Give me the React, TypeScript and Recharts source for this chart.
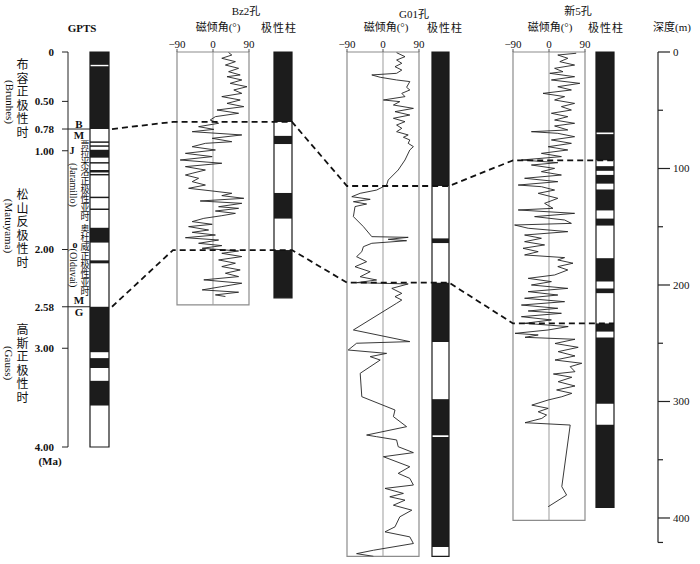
import React from 'react'
import { ComposedChart, LineChart, Line, XAxis, YAxis, ReferenceArea, ReferenceLine } from 'recharts'

// shared vertical scale: every panel starts at y=52
const TOP = 52
const PX_PER_M = 1.165
const PX_PER_MA = 98.75
const SERIF = "'Liberation Serif', 'Noto Sans CJK SC', serif"
const CJK = "'Noto Sans CJK SC', 'Liberation Serif', serif"

// ---- data ----
const inclTicks = [-90, 0, 90]
const gptsTicks = [0, 0.5, 0.78, 1, 2, 2.58, 3, 4]
const depthTicks = [0, 50, 100, 150, 200, 250, 300, 350, 400]

// normal polarity intervals (black), Ma
const gptsNormal = [
  [0, 0.13], [0.145, 0.78], [0.905, 0.92], [0.945, 0.96], [0.99, 1.07], [1.115, 1.13],
  [1.195, 1.22], [1.235, 1.25], [1.465, 1.48], [1.585, 1.6], [1.78, 1.93], [2.11, 2.14],
  [2.58, 3.04], [3.1, 3.2], [3.33, 3.58],
]

// normal polarity intervals (black), m
const bz2Normal = [[0, 60], [72, 79], [121, 143], [170, 211]]
const g01Normal = [[0, 115], [160, 164], [198, 249], [298, 329], [330.5, 425]]
const x5Normal = [
  [0, 69], [70.5, 93], [98, 102], [105.5, 113], [118, 136], [143, 149], [177, 197],
  [203, 207], [233, 240], [245, 302], [320, 391],
]

// [depth m, inclination deg]
const bz2Curve = [
  [0.5, 39], [2.6, 47], [5.4, 22], [8.3, 56], [11.2, 31], [14, 64], [16.9, 39], [19.7, 68], [21.2, 35],
  [24, 72], [26.9, 43], [29.8, 85], [32.6, 52], [35.5, 72], [38.3, 22], [41.2, 68], [44.1, 35], [46.9, 77],
  [49.8, 10], [52.6, 64], [55.5, 6], [58.4, -7], [61.2, 14], [64.1, -36], [66.4, 2], [68.4, -52], [71.2, 72],
  [74.1, -2], [77, 47], [78.4, -19], [81.3, -52], [84.1, 6], [87, -69], [89.8, -2], [92.7, -82], [95.5, 22],
  [98.4, -69], [101.3, -19], [104.1, -52], [105.6, -69], [108.4, -36], [111.3, -52], [114.2, -19], [117, -61],
  [119.3, -2], [121.3, 47], [123.3, 22], [125.6, 77], [127.9, -32], [129.9, 72], [132.8, 14], [134.2, 64],
  [136.5, 6], [138.5, 56], [140.5, 22], [142.8, -23], [145.6, -52], [147.9, -2], [149.9, -61], [152.8, -11],
  [154.8, -52], [157.1, 6], [159.4, -69], [161.4, 14], [164.2, -36], [166.2, 22], [168.5, -27], [170.8, 64],
  [172.8, 22], [175.6, 72], [178.5, 14], [181.3, 56], [184.2, 22], [187.1, 68], [189.9, 31], [192.8, 64],
  [195.6, -23], [198.5, 72], [201.4, 22], [204.2, -27], [206.2, 64], [208.5, 6], [209.9, 31],
]

const g01Curve = [
  [0.6, 34], [4, 55], [6.9, 34], [9.7, 47], [12.6, 30], [15.5, 47], [18.3, 34], [19.7, -28], [21.7, -7],
  [24, 34], [25.4, 67], [30.3, 59], [32.6, 67], [35.5, 47], [38.3, 55], [41.2, 1], [42.6, 42], [45.5, 26],
  [48.4, 76], [51.2, 30], [54.1, 67], [56.9, 26], [59.8, 55], [62.7, 34], [65.5, 47], [68.4, 34], [71.2, 63],
  [73.2, 51], [75.5, 67], [78.4, 63], [81.2, 76], [84.1, 67], [92.7, 55], [101.3, 38], [109.9, 13], [114.2, 9],
  [118.5, -16], [121.3, -57], [124.2, -78], [126.5, -32], [128.5, -74], [130.5, -41], [132.7, -70], [141.3, -74],
  [149.9, -49], [158.5, -28], [159.1, 63], [160.8, 13], [162, 59], [164.2, -28], [167.1, -49], [171.4, -53],
  [175.7, -66], [180, -41], [184.3, -70], [188.6, -32], [192.9, -57], [195.7, -16], [198, -66], [199.1, 63],
  [202.9, 22], [207.2, 47], [210, 30], [212.9, 47], [215.7, 34], [238.6, -74], [248.6, 67], [250, -66],
  [255.8, -87], [258.7, 9], [261.5, -32], [264.4, -7], [275.8, -57], [295.9, -53], [307.3, 30], [313, 26],
  [321.6, 59], [328.8, -41], [330.2, -16], [333, 34], [338.8, 38], [343.9, 76], [347.4, 1], [356, 67],
  [361.7, 38], [366, 67], [371.7, 76], [374.6, 5], [378.9, 51], [381.8, 17], [384.7, 55], [389, 26],
  [393.3, 72], [399, 42], [407.6, 30], [411.9, 5], [416.2, 67], [421.9, 76], [427.7, -24], [430.6, -66],
  [432.9, -24],
]

const x5Curve = [
  [1.1, 68], [2.6, 22], [5.4, 47], [8.3, 27], [11.2, 64], [14, 14], [16.9, 35], [18.3, 2], [21.2, 64],
  [24, 6], [26.9, 77], [29.8, 22], [32.6, 56], [35.5, -15], [38.3, 39], [41.2, 14], [44.1, 64], [46.9, 31],
  [49.8, 56], [52.6, 6], [55.5, 47], [58.4, 14], [61.2, 64], [63.5, 14], [66.9, 47], [68.4, -44], [69.8, 22],
  [72.7, 64], [75.5, 6], [78.4, 56], [81.3, -2], [84.1, 47], [87, -19], [89.8, 31], [92.7, -69], [95, 22],
  [97, -44], [99.9, 14], [102.7, -19], [105.6, 31], [108.4, -61], [111.3, 22], [114.2, -77], [115.6, -19],
  [118.5, 14], [121.3, -27], [125.6, 22], [129.9, -11], [134.2, 10], [135.6, -77], [138.5, 64], [141.3, -36],
  [144.2, 39], [147.1, 56], [148.5, -86], [151.3, -52], [154.2, 47], [157.1, -61], [159.9, -19], [162.8, -61],
  [165.6, -11], [168.5, -65], [171.4, -27], [174.2, -61], [176.5, 39], [178.5, 22], [181.3, 60], [184.2, 22],
  [187.1, 47], [191.4, 14], [194.3, -52], [197.1, 6], [200, -44], [202.9, 47], [205.7, -52], [208.6, 22],
  [211.4, -61], [214.3, 39], [217.2, -69], [220, 22], [222.3, -52], [224.3, 31], [227.2, -69], [230, 6],
  [232.9, -61], [235.7, 48], [238.6, -2], [241.5, -85], [242.9, -27], [244.9, -60], [246.6, 65], [250.2, 15],
  [253.5, 73], [257.2, 23], [260.9, 65], [264.4, 15], [267.2, 82], [270.1, 53], [274.4, 65], [276.4, 11],
  [279.2, 57], [283, 23], [286.7, 65], [290.1, 19], [293, 57], [295.9, 32], [298.7, -2], [303.1, -43],
  [305.9, -2], [308.8, -27], [311.6, -6], [314.5, -18], [318.2, -60], [320.2, 53], [373.1, 32], [380.3, 44],
  [390.3, -2],
]

// correlation boundaries (B/M, M/G)
const boundaryAge = [0.78, 2.58]
const bz2Boundary = [60, 170]
const g01Boundary = [115, 198]
const x5Boundary = [93, 233]

// ---- layout ----
const GPTS_AXIS_X = 68
const GPTS_COL = [90, 109]
const BZ2 = { box: [177, 249], col: [274, 292], boxBottom: 217, colBottom: 211 }
const G01 = { box: [347, 419], col: [432, 449], boxBottom: 433, colBottom: 433 }
const X5 = { box: [513, 585], col: [596, 614], boxBottom: 402, colBottom: 391 }
const DEPTH_AXIS_X = 658
const DEPTH_END = 421

const fmtIncl = (v: number) => (v < 0 ? `\u2212${-v}` : `${v}`)

const CurvePanel = ({ box, bottom, curve }: { box: number[]; bottom: number; curve: number[][] }) => {
  const w = box[1] - box[0]
  const h = bottom * PX_PER_M
  const pts = curve.map(([d, inc]) => ({ d, inc }))
  return (
    <div style={{ position: 'absolute', left: box[0] - 12, top: TOP - 20 }}>
      <LineChart width={w + 24} height={h + 22} data={pts} margin={{ top: 0, right: 12, bottom: 2, left: 12 }}>
        <XAxis
          type="number" dataKey="inc" orientation="top" domain={[-90, 90]} ticks={inclTicks} interval={0}
          height={20} tickSize={3} tickMargin={1} axisLine={false} allowDataOverflow
          tickLine={{ stroke: '#555' }} tickFormatter={fmtIncl}
          tick={{ fontSize: 11, fill: '#111', fontFamily: SERIF }}
        />
        <YAxis type="number" dataKey="d" domain={[0, bottom]} reversed hide allowDataOverflow />
        <ReferenceArea x1={-90} x2={90} y1={0} y2={bottom} fill="none" stroke="#8c8c8c" strokeWidth={1.2} />
        <ReferenceLine x={0} stroke="#9c9c9c" />
        <Line dataKey="d" stroke="#222" strokeWidth={0.9} dot={false} isAnimationActive={false} />
      </LineChart>
    </div>
  )
}

// black = normal, white = reversed; areas span the full chart width
const PolarityColumn = ({ col, bottom, bands, scale = PX_PER_M }: { col: number[]; bottom: number; bands: number[][]; scale?: number }) => {
  const w = col[1] - col[0]
  const h = bottom * scale
  return (
    <div style={{ position: 'absolute', left: col[0] - 1, top: TOP - 1 }}>
      <ComposedChart width={w + 2} height={h + 2} data={bands.map(([a, b]) => ({ a, b }))} margin={{ top: 1, right: 1, bottom: 1, left: 1 }}>
        <XAxis hide />
        <YAxis type="number" domain={[0, bottom]} reversed hide allowDataOverflow />
        <ReferenceArea y1={0} y2={bottom} fill="#fff" fillOpacity={1} stroke="none" />
        {bands.map(([a, b], i) => (
          <ReferenceArea key={i} y1={a} y2={b} fill="#1c1c1c" fillOpacity={1} stroke="none" />
        ))}
        <ReferenceArea y1={0} y2={bottom} fill="none" stroke="#1a1a1a" strokeWidth={1.2} />
      </ComposedChart>
    </div>
  )
}

const DepthTick = (props: any) => {
  const { x, y, payload } = props
  const v = payload.value
  const major = v % 100 === 0
  return (
    <g>
      <line x1={x} x2={x + (major ? 12 : 5)} y1={y} y2={y} stroke="#222" strokeWidth={1.2} />
      {major && v <= 400 && (
        <text x={x + 15} y={y} dy={4} fontSize={11} fontFamily={SERIF} fill="#111">{v}</text>
      )}
    </g>
  )
}

const T = ({ x, y, children, size = 12, bold = false, vertical = false, font = SERIF, spacing = 0 }: any) => (
  <div
    style={{
      position: 'absolute', left: x, top: y, transform: 'translate(-50%, -50%)', whiteSpace: 'nowrap',
      fontSize: size, fontWeight: bold ? 'bold' : 'normal', fontFamily: font, lineHeight: 1, color: '#111',
      writingMode: vertical ? 'vertical-rl' : 'horizontal-tb', letterSpacing: spacing,
    }}
  >
    {children}
  </div>
)

export default function App() {
  const lines = boundaryAge.map((age, i) => [
    { x: GPTS_COL[1] + 3, d: (age * PX_PER_MA) / PX_PER_M },
    { x: BZ2.box[0] - 4, d: bz2Boundary[i] },
    { x: BZ2.col[1], d: bz2Boundary[i] },
    { x: G01.box[0], d: g01Boundary[i] },
    { x: G01.col[1], d: g01Boundary[i] },
    { x: X5.box[0], d: x5Boundary[i] },
    { x: X5.col[1], d: x5Boundary[i] },
  ])
  const gptsH = 4 * PX_PER_MA
  const depthH = DEPTH_END * PX_PER_M

  return (
    <div style={{ position: 'absolute', left: 0, top: 0, width: 700, height: 564, background: '#fff', overflow: 'hidden' }}>
      {/* GPTS age axis with boundary lines */}
      <div style={{ position: 'absolute', left: GPTS_AXIS_X - 60, top: TOP - 8 }}>
        <LineChart
          width={60 + GPTS_COL[1] - GPTS_AXIS_X + 2} height={gptsH + 16}
          data={gptsTicks.map((a) => ({ a }))} margin={{ top: 8, right: 2, bottom: 8, left: 0 }}
        >
          <XAxis hide />
          <YAxis
            type="number" domain={[0, 4]} reversed ticks={gptsTicks} interval={0} width={60}
            tickSize={6} tickMargin={8} stroke="#222" allowDataOverflow
            tickFormatter={(v: number) => (v === 0 ? '0' : v.toFixed(2))}
            tick={{ fontSize: 11, fill: '#111', fontFamily: SERIF, fontWeight: 'bold' }}
          />
          {boundaryAge.map((a) => (
            <ReferenceLine key={a} y={a} stroke="#222" strokeWidth={1} />
          ))}
        </LineChart>
      </div>
      <PolarityColumn col={GPTS_COL} bottom={4} bands={gptsNormal} scale={PX_PER_MA} />

      <CurvePanel box={BZ2.box} bottom={BZ2.boxBottom} curve={bz2Curve} />
      <PolarityColumn col={BZ2.col} bottom={BZ2.colBottom} bands={bz2Normal} />
      <CurvePanel box={G01.box} bottom={G01.boxBottom} curve={g01Curve} />
      <PolarityColumn col={G01.col} bottom={G01.colBottom} bands={g01Normal} />
      <CurvePanel box={X5.box} bottom={X5.boxBottom} curve={x5Curve} />
      <PolarityColumn col={X5.col} bottom={X5.colBottom} bands={x5Normal} />

      {/* depth axis */}
      <div style={{ position: 'absolute', left: DEPTH_AXIS_X - 1, top: TOP - 8 }}>
        <LineChart width={42} height={depthH + 16} data={depthTicks.map((d) => ({ d }))} margin={{ top: 8, right: 0, bottom: 8, left: 0 }}>
          <XAxis hide />
          <YAxis
            orientation="right" type="number" domain={[0, DEPTH_END]} reversed allowDataOverflow
            ticks={[...depthTicks, DEPTH_END]} interval={0} width={41} tickSize={0} tickMargin={0}
            tickLine={false} stroke="#222" strokeWidth={1.2} tick={<DepthTick />}
          />
        </LineChart>
      </div>

      {/* correlation lines */}
      <div style={{ position: 'absolute', left: 0, top: 0, pointerEvents: 'none' }}>
        <LineChart width={700} height={564} margin={{ top: 0, right: 0, bottom: 0, left: 0 }}>
          <XAxis type="number" dataKey="x" domain={[0, 700]} hide allowDataOverflow />
          <YAxis type="number" dataKey="d" domain={[-TOP / PX_PER_M, (564 - TOP) / PX_PER_M]} reversed hide allowDataOverflow />
          {lines.map((pts, i) => (
            <Line key={i} data={pts} dataKey="d" stroke="#111" strokeWidth={1.8} strokeDasharray="6 4" dot={false} isAnimationActive={false} />
          ))}
        </LineChart>
      </div>

      {/* titles */}
      <T x={82} y={28} size={11} bold>GPTS</T>
      <T x={246} y={11} size={11}>Bz2孔</T>
      <T x={218} y={27} size={11}>磁倾角(°)</T>
      <T x={279} y={27} size={11} font={CJK} spacing={1}>极性柱</T>
      <T x={414} y={14} size={11}>G01孔</T>
      <T x={386} y={27} size={11}>磁倾角(°)</T>
      <T x={445} y={27} size={11} font={CJK} spacing={1}>极性柱</T>
      <T x={578} y={11} size={11}>新5孔</T>
      <T x={550} y={27} size={11}>磁倾角(°)</T>
      <T x={606} y={27} size={11} font={CJK} spacing={1}>极性柱</T>
      <T x={672} y={27} size={11}>深度(m)</T>
      <T x={50} y={461} size={11} bold>(Ma)</T>

      {/* chrons */}
      <T x={22} y={99} size={12} vertical font={CJK} spacing={1.5}>布容正极性时</T>
      <T x={9} y={102} size={11} vertical>(Brunhes)</T>
      <T x={22} y={229} size={12} vertical font={CJK} spacing={1.5}>松山反极性时</T>
      <T x={8} y={226} size={11} vertical>(Matuyama)</T>
      <T x={22} y={364} size={12} vertical font={CJK} spacing={1.5}>高斯正极性时</T>
      <T x={8} y={363} size={11} vertical>(Gauss)</T>

      {/* subchrons */}
      <T x={79} y={124} size={11} bold>B</T>
      <T x={79} y={135} size={11} bold>M</T>
      <T x={72} y={151} size={10} bold>J</T>
      <T x={85} y={181} size={9} vertical font={CJK}>贾拉米洛正极性亚时</T>
      <T x={73} y={185} size={10} vertical>(Jaramillo)</T>
      <T x={75} y={245} size={10} bold>o</T>
      <T x={73} y={268} size={10} vertical>(Olduvai)</T>
      <T x={85} y={260} size={9} vertical font={CJK}>奥杜威正极性亚时</T>
      <T x={79} y={300} size={11} bold>M</T>
      <T x={79} y={312} size={11} bold>G</T>
    </div>
  )
}
